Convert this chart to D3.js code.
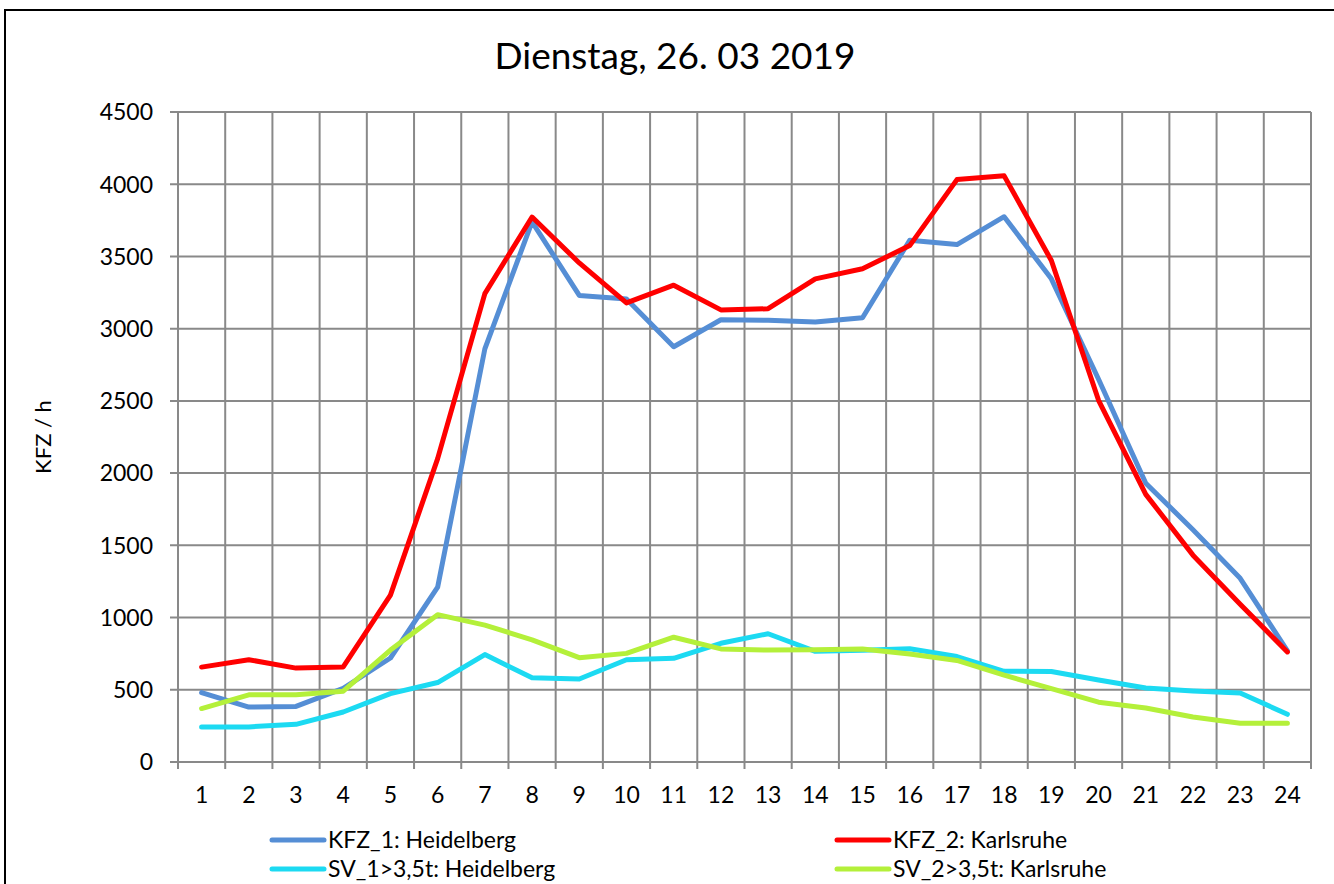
<!DOCTYPE html>
<html>
<head>
<meta charset="utf-8">
<script src="https://cdn.jsdelivr.net/npm/d3@7"></script>
<style>
  html, body { margin: 0; padding: 0; background: #fff; }
  svg text { font-family: Lato, "Noto Sans", sans-serif; fill: #000; }
</style>
</head>
<body>
<svg id="chart" width="1334" height="884"></svg>
<script>
// hours of the day
const hours = d3.range(1, 25).map(String);

// vehicles per hour
const kfz1Heidelberg = [480, 380, 385, 510, 720, 1210, 2860, 3740, 3230, 3205, 2875, 3062, 3058, 3046, 3076,
  3612, 3582, 3775, 3345, 2650, 1930, 1608, 1272, 770];
const kfz2Karlsruhe = [657, 708, 650, 658, 1155, 2100, 3243, 3773, 3455, 3178, 3301, 3130, 3138, 3345, 3415,
  3575, 4032, 4058, 3472, 2504, 1853, 1432, 1092, 762];
const sv1Heidelberg = [243, 243, 261, 346, 473, 550, 744, 583, 575, 708, 718, 822, 888, 766, 773,
  784, 730, 628, 626, 568, 512, 492, 478, 330];
const sv2Karlsruhe = [370, 465, 465, 490, 775, 1020, 948, 846, 722, 752, 864, 783, 775, 777, 782,
  748, 703, 601, 508, 414, 374, 312, 268, 268];

const yTicks = [0, 500, 1000, 1500, 2000, 2500, 3000, 3500, 4000, 4500];

const series = [
  { name: 'KFZ_1: Heidelberg', values: kfz1Heidelberg, color: '#558ED5' },
  { name: 'KFZ_2: Karlsruhe', values: kfz2Karlsruhe, color: '#FF0000' },
  { name: 'SV_1>3,5t: Heidelberg', values: sv1Heidelberg, color: '#1CDAF2' },
  { name: 'SV_2>3,5t: Karlsruhe', values: sv2Karlsruhe, color: '#B4F03A' }
];

const svg = d3.select('#chart');
const margin = { left: 178, top: 112, right: 1311, bottom: 762 };
const gridColor = '#898989';

// outer chart border (right and bottom edge fall outside the picture)
svg.append('rect')
  .attr('x', 5).attr('y', 10)
  .attr('width', 1340).attr('height', 900)
  .attr('fill', 'none')
  .attr('stroke', '#000')
  .attr('stroke-width', 2);

const x = d3.scaleBand().domain(hours).range([margin.left, margin.right]).padding(0);
const y = d3.scaleLinear().domain([0, 4500]).range([margin.bottom, margin.top]);

// title
svg.append('text')
  .attr('x', 675).attr('y', 69)
  .attr('text-anchor', 'middle')
  .style('font-size', '37px')
  .text('Dienstag, 26. 03 2019');

// grid
const grid = svg.append('g').attr('class', 'grid');
grid.selectAll('.hgrid')
  .data(yTicks)
  .enter().append('line')
  .attr('x1', margin.left - 8).attr('x2', margin.right)
  .attr('y1', d => y(d)).attr('y2', d => y(d))
  .attr('stroke', gridColor).attr('stroke-width', 2);

const edges = hours.map(h => x(h)).concat([x(hours[hours.length - 1]) + x.bandwidth()]);
grid.selectAll('.vgrid')
  .data(edges)
  .enter().append('line')
  .attr('x1', d => d).attr('x2', d => d)
  .attr('y1', margin.top).attr('y2', margin.bottom + 7)
  .attr('stroke', gridColor).attr('stroke-width', 2);

// y axis labels
svg.append('g').selectAll('text')
  .data(yTicks)
  .enter().append('text')
  .attr('x', 153)
  .attr('y', d => y(d))
  .attr('dy', '0.36em')
  .attr('text-anchor', 'end')
  .style('font-size', '23px')
  .text(d => d);

// x axis labels
svg.append('g').selectAll('text')
  .data(hours)
  .enter().append('text')
  .attr('x', d => x(d) + x.bandwidth() / 2)
  .attr('y', 803)
  .attr('text-anchor', 'middle')
  .style('font-size', '23px')
  .text(d => d);

// y axis title
svg.append('text')
  .attr('transform', 'translate(51,437) rotate(-90)')
  .attr('text-anchor', 'middle')
  .style('font-size', '22px')
  .text('KFZ / h');

// lines
const line = d3.line()
  .x((d, i) => x(hours[i]) + x.bandwidth() / 2)
  .y(d => y(d));

svg.append('g').attr('class', 'lines')
  .selectAll('path')
  .data(series)
  .enter().append('path')
  .attr('d', d => line(d.values))
  .attr('fill', 'none')
  .attr('stroke', d => d.color)
  .attr('stroke-width', 5)
  .attr('stroke-linejoin', 'round')
  .attr('stroke-linecap', 'round');

// legend (second row kept just inside the picture)
const legendPos = [
  { x: 272, y: 840 },
  { x: 837, y: 840 },
  { x: 272, y: 869 },
  { x: 837, y: 869 }
];
const legend = svg.append('g').attr('class', 'legend')
  .selectAll('g')
  .data(series)
  .enter().append('g')
  .attr('transform', (d, i) => `translate(${legendPos[i].x},${legendPos[i].y})`);

legend.append('line')
  .attr('x1', 0).attr('x2', 52)
  .attr('stroke', d => d.color)
  .attr('stroke-width', 5)
  .attr('stroke-linecap', 'round');

legend.append('text')
  .attr('x', 56)
  .attr('dy', '0.36em')
  .style('font-size', '23px')
  .text(d => d.name);
</script>
</body>
</html>
